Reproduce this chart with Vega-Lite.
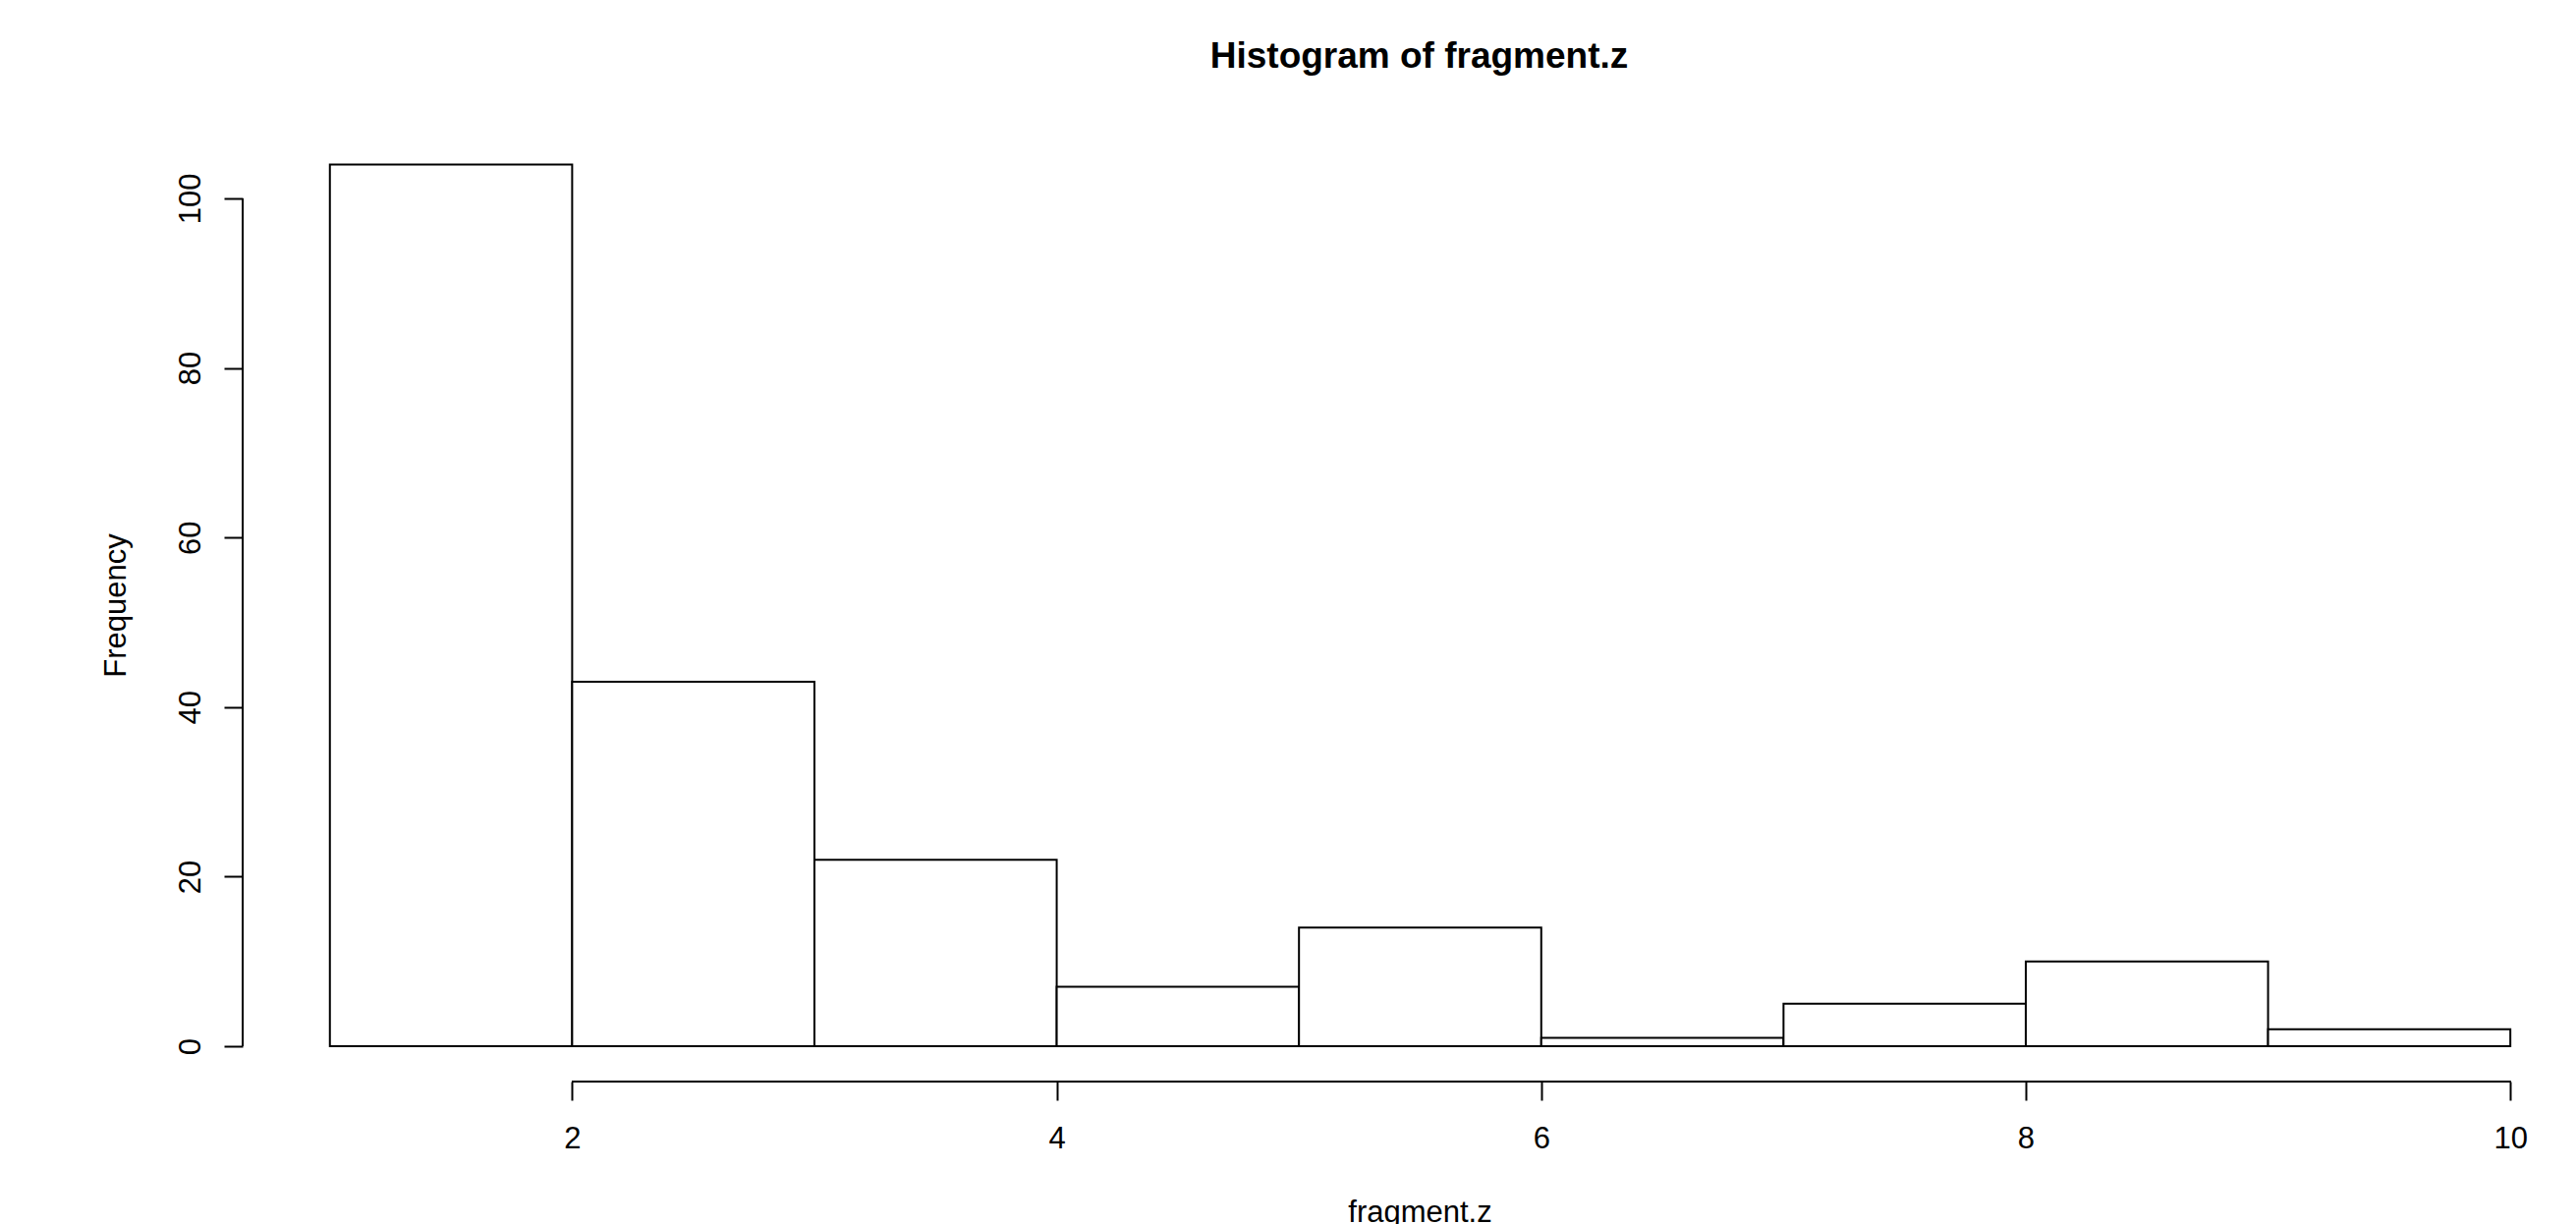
{
  "$schema": "https://vega.github.io/schema/vega-lite/v6.json",
  "width": 2375,
  "height": 969,
  "autosize": {"type": "none"},
  "padding": {"left": 247, "top": 132, "right": 0, "bottom": 145},
  "background": "white",
  "config": {
    "view": {"stroke": null},
    "font": "Liberation Sans"
  },
  "title": {
    "text": "Histogram of fragment.z",
    "font": "Liberation Sans",
    "fontSize": 37,
    "fontWeight": "bold",
    "color": "black",
    "anchor": "middle",
    "frame": "group",
    "baseline": "alphabetic",
    "offset": 26,
    "dx": 10
  },
  "data": {
    "values": [
      {"bin_start": 1, "bin_end": 2, "count": 104},
      {"bin_start": 2, "bin_end": 3, "count": 43},
      {"bin_start": 3, "bin_end": 4, "count": 22},
      {"bin_start": 4, "bin_end": 5, "count": 7},
      {"bin_start": 5, "bin_end": 6, "count": 14},
      {"bin_start": 6, "bin_end": 7, "count": 1},
      {"bin_start": 7, "bin_end": 8, "count": 5},
      {"bin_start": 8, "bin_end": 9, "count": 10},
      {"bin_start": 9, "bin_end": 10, "count": 2}
    ]
  },
  "layer": [
    {
      "mark": {"type": "rect", "fill": "white", "stroke": "black", "strokeWidth": 2},
      "encoding": {
        "x": {
          "field": "bin_start",
          "type": "quantitative",
          "scale": {"domain": [0.64, 10.271], "nice": false, "zero": false},
          "axis": {
            "values": [2, 4, 6, 8, 10],
            "format": "d",
            "domain": false,
            "grid": false,
            "ticks": true,
            "tickSize": 19,
            "tickWidth": 2,
            "tickColor": "black",
            "labelFont": "Liberation Sans",
            "labelFontSize": 31,
            "labelColor": "black",
            "labelBaseline": "alphabetic",
            "labelPadding": 48,
            "labelFlush": false,
            "labelOverlap": false,
            "title": "fragment.z",
            "titleFont": "Liberation Sans",
            "titleFontSize": 31,
            "titleFontWeight": "normal",
            "titleColor": "black",
            "titleBaseline": "alphabetic",
            "titleAlign": "center",
            "titleAnchor": null,
            "titleX": 1198,
            "titleY": 142
          }
        },
        "x2": {"field": "bin_end"},
        "y": {
          "field": "count",
          "type": "quantitative",
          "scale": {"domain": [-4.17, 108.11], "nice": false, "zero": false},
          "axis": {
            "values": [0, 20, 40, 60, 80, 100],
            "format": "d",
            "domain": false,
            "grid": false,
            "ticks": true,
            "tickSize": 19,
            "tickWidth": 2,
            "tickColor": "black",
            "labelFont": "Liberation Sans",
            "labelFontSize": 31,
            "labelColor": "black",
            "labelAngle": 270,
            "labelAlign": "center",
            "labelBaseline": "alphabetic",
            "labelPadding": 25,
            "labelFlush": false,
            "labelOverlap": false,
            "title": "Frequency",
            "titleFont": "Liberation Sans",
            "titleFontSize": 31,
            "titleFontWeight": "normal",
            "titleColor": "black",
            "titleAngle": 270,
            "titleBaseline": "alphabetic",
            "titleAlign": "center",
            "titleAnchor": null,
            "titleX": -120,
            "titleY": 484
          }
        },
        "y2": {"datum": 0}
      }
    },
    {
      "mark": {"type": "rule", "stroke": "black", "strokeWidth": 2},
      "encoding": {
        "x": {"datum": 2},
        "x2": {"datum": 10},
        "y": {"datum": -4.17}
      }
    },
    {
      "mark": {"type": "rule", "stroke": "black", "strokeWidth": 2},
      "encoding": {
        "x": {"datum": 0.64},
        "y": {"datum": 0},
        "y2": {"datum": 100}
      }
    }
  ]
}
